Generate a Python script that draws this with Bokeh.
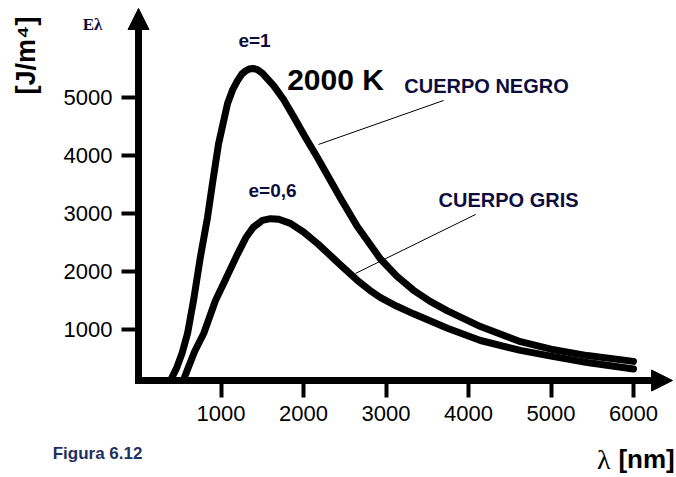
from bokeh.plotting import figure
from bokeh.models import Label, Arrow, NormalHead, FixedTicker, Range1d
from bokeh.embed import file_html
from bokeh.resources import INLINE

# ---- data ----
x_ticks = [1000, 2000, 3000, 4000, 5000, 6000]
y_ticks = [1000, 2000, 3000, 4000, 5000]

black_nm = [390, 460, 530, 594, 667, 750, 836, 900, 970, 1080, 1140, 1200, 1250, 1300, 1340,
            1390, 1440, 1500, 1640, 1760, 1880, 2020, 2170, 2330, 2450, 2650, 2930, 3130,
            3330, 3540, 3745, 4145, 4630, 5000, 5440, 6000]
black_E = [130, 330, 600, 930, 1500, 2250, 2930, 3550, 4200, 4900, 5130, 5290, 5400, 5460, 5490,
           5500, 5480, 5420, 5200, 4960, 4670, 4320, 3960, 3560, 3260, 2780, 2220, 1920,
           1680, 1480, 1320, 1050, 790, 660, 550, 450]

gray_nm = [545, 600, 680, 790, 933, 1050, 1200, 1300, 1390, 1500, 1600, 1700, 1840, 2000,
           2170, 2330, 2450, 2650, 2800, 2933, 3133, 3333, 3745, 4145, 4630, 5000, 5440, 6000]
gray_E = [130, 330, 620, 930, 1500, 1850, 2300, 2580, 2760, 2880, 2910, 2900, 2830, 2680,
          2480, 2270, 2110, 1850, 1680, 1550, 1400, 1270, 1020, 810, 640, 540, 430, 320]

# leader lines (start at label, end at curve)
lead_x0 = [3697, 4085]
lead_y0 = [4948, 2983]
lead_x1 = [2182, 2630]
lead_y1 = [4190, 1966]

# whole canvas is the plot frame; axes are pinned at x=0 / y=AXIS_Y
X_MIN, X_MAX = -1673, 6521
Y_MIN, Y_MAX = -1552, 6672
AXIS_Y = 120
X_TIP, Y_TIP = 6473, 6534

p = figure(width=676, height=477, output_backend="svg", toolbar_location=None,
           title=None, x_range=Range1d(X_MIN, X_MAX), y_range=Range1d(Y_MIN, Y_MAX),
           min_border=0)
p.outline_line_color = None
p.grid.visible = False
p.background_fill_color = "white"
p.border_fill_color = "white"

for ax, ticks in ((p.xaxis, x_ticks), (p.yaxis, y_ticks)):
    ax.ticker = FixedTicker(ticks=ticks)
    ax.axis_line_color = None
    ax.major_tick_line_width = 4
    ax.major_tick_line_color = "black"
    ax.major_tick_in = 0
    ax.major_tick_out = 17
    ax.minor_tick_line_color = None
    ax.major_label_text_font = "Liberation Sans"
    ax.major_label_text_font_size = "22px"
    ax.major_label_text_color = "black"
p.xaxis.fixed_location = AXIS_Y
p.yaxis.fixed_location = 0
p.xaxis.major_label_standoff = 8
p.yaxis.major_label_standoff = 9

# axis lines
p.segment([0, -40], [AXIS_Y - 60, AXIS_Y], [0, X_TIP - 150], [Y_TIP - 300, AXIS_Y],
          line_width=7, line_color="black")
# axis arrow heads
for xs, ys, xe, ye in ((0, Y_TIP - 600, 0, Y_TIP), (X_TIP - 300, AXIS_Y, X_TIP, AXIS_Y)):
    p.add_layout(Arrow(end=NormalHead(size=21, fill_color="black", line_color="black"),
                       x_start=xs, y_start=ys, x_end=xe, y_end=ye,
                       line_width=0, line_alpha=0))

# curves
p.line(black_nm, black_E, line_width=7, line_color="black", line_join="round", line_cap="round")
p.line(gray_nm, gray_E, line_width=7, line_color="black", line_join="round", line_cap="round")

# leader lines
p.segment(lead_x0, lead_y0, lead_x1, lead_y1, line_width=1, line_color="black")

NAVY = "#0d0d3d"

def lab(x, y, text, size, color="black", font="Liberation Sans", style="bold",
        align="center", angle=0):
    p.add_layout(Label(x=x, y=y, text=text, text_align=align, text_baseline="middle",
                       text_font=font, text_font_size=size, text_font_style=style,
                       text_color=color, angle=angle, angle_units="deg"))

lab(-558, 6259, "Eλ", "17px", color=NAVY, font="Liberation Serif")
lab(-1358, 5724, "[J/m⁴]", "27px", angle=90)
lab(1406, 5983, "e=1", "19px", color=NAVY)
lab(2388, 5310, "2000 K", "30px")
lab(4218, 5190, "CUERPO NEGRO", "20px", color=NAVY)
lab(1624, 3397, "e=0,6", "19px", color=NAVY)
lab(4485, 3241, "CUERPO GRIS", "20px", color=NAVY)
lab(-497, -1138, "Figura 6.12", "17px", color="#1f2f5f")
lab(6500, -1241, "[nm]", "26px", align="right")
lab(5721, -1241, "λ", "28px", font="Liberation Serif", style="normal", align="right")

open("out.html", "w").write(file_html(p, INLINE))
